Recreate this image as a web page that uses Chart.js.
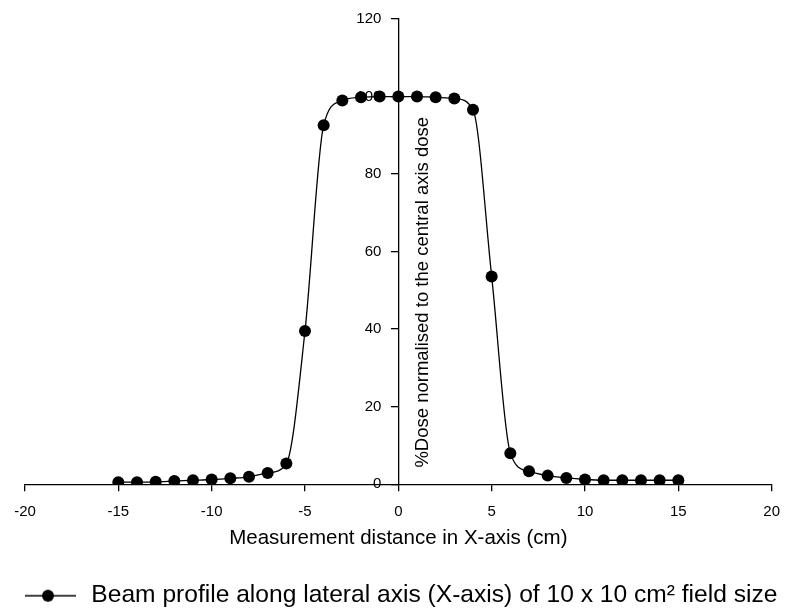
<!DOCTYPE html>
<html>
<head>
<meta charset="utf-8">
<script src="https://cdn.jsdelivr.net/npm/chart.js@4/dist/chart.umd.min.js"></script>
<style>
  html, body { margin: 0; padding: 0; background: #fff; }
  #wrap { width: 785px; height: 613px; }
</style>
</head>
<body>
<div id="wrap"><canvas id="myChart"></canvas></div>
<script>
const distance = [-15, -14, -13, -12, -11, -10, -9, -8, -7, -6, -5, -4, -3, -2, -1, 0,
                  1, 2, 3, 4, 5, 6, 7, 8, 9, 10, 11, 12, 13, 14, 15];
const dose = [0.5, 0.5, 0.6, 0.8, 1.0, 1.2, 1.5, 1.9, 2.9, 5.3, 39.5, 92.6, 99.0, 99.8, 100, 100,
              100, 99.8, 99.5, 96.6, 53.6, 8.0, 3.3, 2.2, 1.6, 1.2, 1.0, 1.0, 1.0, 1.0, 1.0];
const xTicks = [-20, -15, -10, -5, 0, 5, 10, 15, 20];
const yTicks = [0, 20, 40, 60, 80, 100, 120];

const seriesLabel = 'Beam profile along lateral axis (X-axis) of 10 x 10 cm\u00B2 field size';
const xTitle = 'Measurement distance in X-axis (cm)';
const yTitle = '%Dose normalised to the central axis dose';

const FONT = '"Liberation Sans", Arial, sans-serif';

// legend icon: line with a dot in the middle
const legendIcon = document.createElement('canvas');
legendIcon.width = 68;
legendIcon.height = 16;
(function () {
  const c = legendIcon.getContext('2d');
  c.strokeStyle = '#000';
  c.lineWidth = 1.5;
  c.beginPath();
  c.moveTo(0, 8);
  c.lineTo(57, 8);
  c.stroke();
  c.fillStyle = '#000';
  c.beginPath();
  c.arc(29, 8, 6, 0, Math.PI * 2);
  c.fill();
})();

// y title sits to the right of the centred y axis
const yTitlePlugin = {
  id: 'yTitle',
  afterDraw(chart) {
    const {ctx, scales} = chart;
    const x = scales.x.getPixelForValue(0) + 30;
    const y = scales.y.getPixelForValue(49.5);
    ctx.save();
    ctx.translate(x, y);
    ctx.rotate(-Math.PI / 2);
    ctx.font = '18.5px ' + FONT;
    ctx.fillStyle = '#000';
    ctx.textAlign = 'center';
    ctx.textBaseline = 'alphabetic';
    ctx.fillText(yTitle, 0, 0);
    ctx.restore();
  }
};

const ctx = document.getElementById('myChart').getContext('2d');

const myChart = new Chart(ctx, {
    type: 'scatter',
    data: {
        datasets: [{
            label: seriesLabel,
            data: distance.map((d, i) => ({x: d, y: dose[i]})),
            showLine: true,
            borderColor: '#000',
            borderWidth: 1.3,
            cubicInterpolationMode: 'monotone',
            pointRadius: 6,
            pointHoverRadius: 6,
            pointBackgroundColor: '#000',
            pointBorderColor: '#000',
            pointBorderWidth: 0
        }]
    },
    options: {
        responsive: true,
        maintainAspectRatio: false,
        animation: false,
        layout: { padding: { left: 25, right: 0, top: 17, bottom: -5 } },
        scales: {
            x: {
                type: 'linear',
                position: 'bottom',
                min: -20,
                max: 20,
                afterBuildTicks: (s) => { s.ticks = xTicks.map(v => ({value: v})); },
                grid: { drawOnChartArea: false, color: '#000', tickLength: 7, lineWidth: 1.3 },
                border: { color: '#000', width: 1.3 },
                ticks: { color: '#000', font: { size: 15, family: FONT, lineHeight: 32 / 15 }, padding: 5 },
                title: {
                    display: true,
                    text: xTitle,
                    color: '#000',
                    font: { size: 20.5, family: FONT, lineHeight: 0.5 },
                    padding: { top: 0, bottom: 38 }
                }
            },
            y: {
                type: 'linear',
                position: 'center',
                min: 0,
                max: 120,
                afterBuildTicks: (s) => { s.ticks = yTicks.map(v => ({value: v})); },
                grid: { drawOnChartArea: false, color: '#000', tickLength: 7, lineWidth: 1.3 },
                border: { color: '#000', width: 1.3 },
                ticks: { color: '#000', font: { size: 15, family: FONT }, padding: 10 }
            }
        },
        plugins: {
            legend: {
                position: 'bottom',
                align: 'start',
                labels: {
                    usePointStyle: true,
                    pointStyleWidth: 52,
                    padding: 2,
                    color: '#000',
                    font: { size: 24.6, family: FONT },
                    generateLabels: (chart) =>
                        Chart.defaults.plugins.legend.labels.generateLabels(chart)
                            .map(item => ({...item, pointStyle: legendIcon}))
                }
            },
            tooltip: { enabled: false }
        }
    },
    plugins: [yTitlePlugin]
});
</script>
</body>
</html>
